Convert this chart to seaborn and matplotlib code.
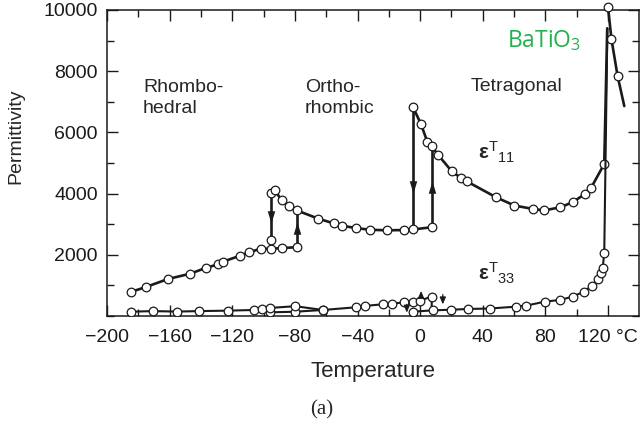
import matplotlib
matplotlib.use("Agg")
import matplotlib.pyplot as plt
import seaborn as sns
from matplotlib.ticker import MultipleLocator, FixedLocator, FixedFormatter

# ---------------- data ----------------
# epsilon_11 : rhombohedral branch
T11_rh = [-184.5, -175, -161, -147, -137, -129, -125.7, -115, -109, -101.5, -95, -88, -78.7]
E11_rh = [790, 950, 1210, 1380, 1570, 1690, 1780, 1970, 2090, 2200, 2200, 2220, 2250]
# epsilon_11 : orthorhombic branch
T11_or = [-95.1, -93, -88.3, -84, -78.7, -65, -55.3, -50, -41, -32.3, -21.3, -10.6, -4.5, 7.4]
E11_or = [4020, 4110, 3780, 3580, 3450, 3180, 3030, 2950, 2875, 2820, 2800, 2810, 2830, 2900]
# epsilon_11 : tetragonal branch (last point: top of steep rise, no marker)
T11_te = [-4.7, 0.4, 4.7, 7.4, 11.7, 20.2, 26, 29.8, 48.5, 60.2, 72, 79, 89.4, 97.5, 105.3, 109, 117.6, 119.5]
E11_te = [6840, 6290, 5680, 5550, 5250, 4730, 4510, 4400, 3880, 3610, 3500, 3450, 3550, 3720, 3990, 4170, 4970, 9400]
# epsilon_11 : cubic branch (last point: line end, no marker)
T11_cu = [120, 122.2, 126.1, 130.4]
E11_cu = [10100, 9050, 7850, 6860]
# phase-transition jumps of epsilon_11: (T, from, to, arrow head centre, direction)
jump_T = [-95.1, -78.7, -4.7, 7.4]
jump_from = [4020, 2250, 6840, 2900]
jump_to = [2200, 3450, 2830, 5550]
jump_head = [3250, 2890, 4210, 4210]
jump_dir = ["down", "up", "down", "up"]
# extra measured point on the first jump
T11_extra = [-95.1]
E11_extra = [2490]

# epsilon_33 : rhombohedral + orthorhombic branch
T33_a = [-184.7, -170.8, -155.3, -141, -122.8, -106, -100.7, -95.7, -79.8, -62.1, -40.9, -35.1,
         -23.4, -18.1, -10.6, -4.7, 0, 7.4, 7.4]
E33_a = [141, 160, 145, 160, 175, 197, 219, 265, 320, 197, 285, 330, 385, 395, 450, 470, 505, 635, 190]
# epsilon_33 : lower hysteresis branch
T33_b = [-95.7, -79.8, -62.1]
E33_b = [120, 140, 197]
# epsilon_33 : tetragonal branch (last point: top of steep rise, no marker)
T33_c = [-4.3, 8.1, 19.8, 30.8, 44.7, 61.3, 67.7, 79.8, 89.4, 97.5, 104.7, 109.6, 113.8, 115.3,
         116.6, 117.6, 119.6]
E33_c = [142, 185, 205, 230, 245, 306, 339, 470, 525, 634, 798, 984, 1203, 1400, 1563, 2055, 9400]
# small arrows on epsilon_33 (T, from, to)
small_T = [-8.5, 14.5, 0.6]
small_from = [380, 700, 700]
small_to = [110, 380, 820]

x_ticks = [-200, -160, -120, -80, -40, 0, 40, 80, 120]
x_labels = ["\u2212200", "\u2212160", "\u2212120", "\u221280", "\u221240", "0", "40", "80", "120 \u00b0C"]
y_ticks = [2000, 4000, 6000, 8000, 10000]
y_labels = ["2000", "4000", "6000", "8000", "10000"]

# ---------------- style ----------------
sns.set_theme(style="ticks")
plt.rcParams["font.family"] = ["Liberation Sans", "DejaVu Sans"]
plt.rcParams["mathtext.fontset"] = "custom"
plt.rcParams["mathtext.rm"] = "Liberation Sans"
plt.rcParams["mathtext.it"] = "Liberation Sans:italic"
plt.rcParams["mathtext.bf"] = "Liberation Sans:bold"

W, H = 641, 422
fig = plt.figure(figsize=(W / 100, H / 100), dpi=100)
L, R, Tp, B = 107, 639, 10, 316
ax = fig.add_axes([L / W, 1 - B / H, (R - L) / W, (B - Tp) / H])

LW = 1.9
MS = 6.2


def seg(x, y, lw=LW, markevery=None, clip=True, mark=True):
    sns.lineplot(x=x, y=y, sort=False, estimator=None, color="k", lw=lw,
                 marker="o" if mark else "", markersize=MS, markerfacecolor="white",
                 markeredgecolor="k", markeredgewidth=0.9, markevery=markevery,
                 ax=ax, legend=False, clip_on=clip, zorder=3)


# jumps (vertical lines) drawn first
for t, f, to in zip(jump_T, jump_from, jump_to):
    sns.lineplot(x=[t, t], y=[f, to], sort=False, estimator=None, color="k", lw=LW, ax=ax, zorder=2)

seg(T11_rh, E11_rh)
seg(T11_or, E11_or)
seg(T11_te, E11_te, markevery=list(range(len(T11_te) - 1)))
seg(T11_cu, E11_cu, markevery=list(range(len(T11_cu) - 1)), clip=False)
sns.scatterplot(x=T11_extra, y=E11_extra, s=MS ** 2, color="white", edgecolor="k",
                linewidth=0.9, ax=ax, zorder=4)

seg(T33_b, E33_b, lw=1.5)
seg(T33_a, E33_a, lw=1.5, markevery=list(range(len(T33_a) - 1)))
seg(T33_c, E33_c, lw=1.5, markevery=list(range(len(T33_c) - 1)))

# arrow heads
down = [(-0.3, 0.5), (0.3, 0.5), (0, -0.5), (-0.3, 0.5)]
up = [(-0.3, -0.5), (0.3, -0.5), (0, 0.5), (-0.3, -0.5)]
for t, h, d in zip(jump_T, jump_head, jump_dir):
    ax.plot([t], [h], marker=down if d == "down" else up, markersize=9, color="k",
            markeredgewidth=0, zorder=5)

for t, f, to in zip(small_T, small_from, small_to):
    ax.annotate("", xy=(t, to), xytext=(t, f),
                arrowprops=dict(arrowstyle="-|>,head_length=0.35,head_width=0.15",
                                color="k", lw=0.9, shrinkA=0, shrinkB=0), zorder=5)

# ---------------- axes ----------------
ax.set_xlim(-200, 139.8)
ax.set_ylim(0, 10000)
ax.xaxis.set_major_locator(FixedLocator(x_ticks))
ax.xaxis.set_major_formatter(FixedFormatter(x_labels))
ax.xaxis.set_minor_locator(MultipleLocator(20))
ax.yaxis.set_major_locator(FixedLocator(y_ticks))
ax.yaxis.set_major_formatter(FixedFormatter(y_labels))
ax.yaxis.set_minor_locator(MultipleLocator(1000))
ax.tick_params(which="both", direction="in", top=True, right=True, width=1.0, colors="k")
ax.tick_params(which="major", length=8)
ax.tick_params(which="minor", length=5)
ax.tick_params(axis="x", labelsize=14, pad=9)
ax.tick_params(axis="y", labelsize=14, pad=6.5)
for s in ax.spines.values():
    s.set_linewidth(1.1)
    s.set_color("k")
ax.set_xlabel("")
ax.set_ylabel("")

# ---------------- texts ----------------
ax.text(-177, 7115, "Rhombo-\nhedral", fontsize=14, ha="left", va="center", linespacing=1.3)
ax.text(-73.5, 7115, "Ortho-\nrhombic", fontsize=14, ha="left", va="center", linespacing=1.3)
ax.text(32, 7510, "Tetragonal", fontsize=14, ha="left", va="center")
ax.text(55.6, 8985, "BaTiO$_\\mathregular{3}$", fontsize=16.5, ha="left", va="center",
        color="#22b14c", family=["Open Sans", "DejaVu Sans"])
ax.text(37, 5115, "$\\mathbf{\\varepsilon}^{\\mathregular{T}}{}_{\\mathregular{11}}$", fontsize=15,
        ha="left", va="baseline")
ax.text(37, 1148, "$\\mathbf{\\varepsilon}^{\\mathregular{T}}{}_{\\mathregular{33}}$", fontsize=15,
        ha="left", va="baseline")

fig.text(373 / W, 1 - 371 / H, "Temperature", fontsize=16, ha="center", va="center")
fig.text(16 / W, 1 - 136 / H, "Permittivity", fontsize=14, rotation=90, ha="center", va="center")
fig.text(322 / W, 1 - 410 / H, "(a)", fontsize=15, ha="center", va="center",
         family=["Liberation Serif", "DejaVu Serif"])

fig.savefig("out.png", dpi=100)
